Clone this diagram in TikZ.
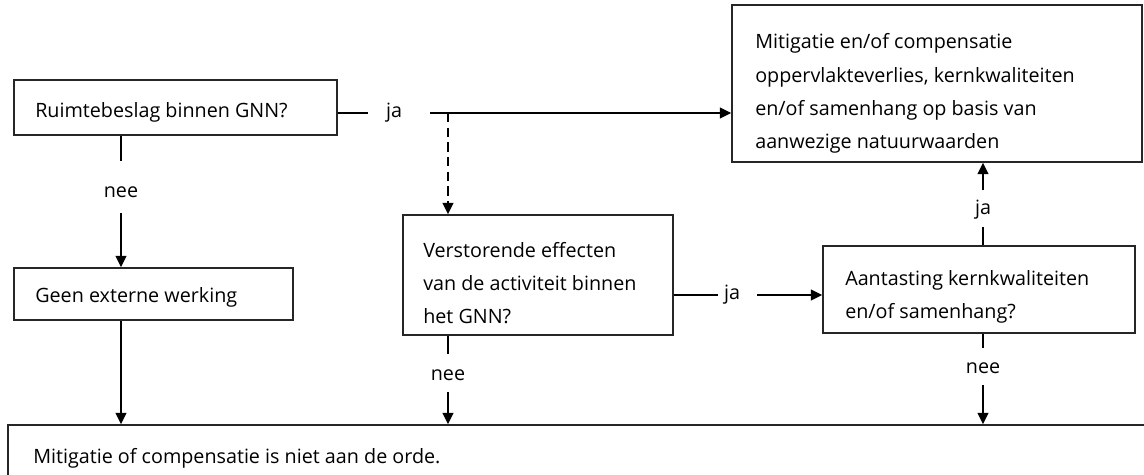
\documentclass[tikz,border=0pt]{standalone}
\usepackage{fontspec}
\setmainfont{Open Sans}
\usetikzlibrary{arrows.meta}
\begin{document}
\begin{tikzpicture}[x=0.75pt,y=-0.75pt,
  font=\fontsize{14.8pt}{25pt}\selectfont,
  box/.style={draw=black!85, line width=1.1pt, rectangle, anchor=center, inner sep=0pt},
  txt/.style={anchor=west, inner sep=0pt, align=left},
  lbl/.style={inner sep=1.5pt, font=\fontsize{14.8pt}{17pt}\selectfont},
  conn/.style={line width=1.2pt},
  arr/.style={conn, -{Triangle[length=8.5pt,width=8pt]}}
]
\useasboundingbox (0,0) rectangle (1144,474);
\clip (0,0) rectangle (1144,474);
% boxes
\node[box, minimum width=323*0.75pt, minimum height=55*0.75pt] (b1) at (175.5,107.5) {};
\node[box, minimum width=279*0.75pt, minimum height=52*0.75pt] (b2) at (153.5,294) {};
\node[box, minimum width=270*0.75pt, minimum height=120*0.75pt] (b3) at (538,275) {};
\node[box, minimum width=312*0.75pt, minimum height=87*0.75pt] (b4) at (979,289.5) {};
\node[box, minimum width=410*0.75pt, minimum height=157*0.75pt] (top) at (937,83.5) {};
\node[box, minimum width=1152*0.75pt, minimum height=75*0.75pt] (bot) at (584,462.5) {};
% texts
\node[txt] (t1) at (35,112.5) {Ruimtebeslag binnen GNN?};
\node[txt] (t2) at (35,297.5) {Geen externe werking};
\node[txt] (t3) at (423,283) {Verstorende effecten\\van de activiteit binnen\\het GNN?};
\node[txt] (t4) at (845,297) {Aantasting kernkwaliteiten\\en/of samenhang?};
\node[txt] (ttop) at (755,93.5) {Mitigatie en/of compensatie\\oppervlakteverlies, kernkwaliteiten\\en/of samenhang op basis van\\aanwezige natuurwaarden};
\node[txt] (tbot) at (33,458.5) {Mitigatie of compensatie is niet aan de orde.};
% labels
\node[lbl] (ja1) at (394,113) {ja};
\node[lbl] (nee1) at (121,192) {nee};
\node[lbl] (ja2) at (732,295) {ja};
\node[lbl] (nee2) at (448,375) {nee};
\node[lbl] (ja3) at (983,210) {ja};
\node[lbl] (nee3) at (983,368) {nee};
\coordinate (split) at (448,113);
% connectors
\draw[conn] (b1.east |- ja1) -- ++(30,0);
\draw[arr] (430,113) -- (ja1 -| top.west);
\draw[arr, dashed, dash pattern=on 7pt off 4pt] (split) -- (split |- b3.north);
\draw[conn] (b1.south -| nee1) -- ++(0,25);
\draw[arr] (121,213) -- (nee1 |- b2.north);
\draw[arr] (b2.south -| nee1) -- (nee1 |- bot.north);
\draw[conn] (b3.east |- ja2) -- ++(44,0);
\draw[arr] (757,295) -- (ja2 -| b4.west);
\draw[conn] (b3.south -| nee2) -- ++(0,18);
\draw[arr] (448,392) -- (nee2 |- bot.north);
\draw[conn] (b4.north -| ja3) -- ++(0,-18);
\draw[arr] (983,190) -- (ja3 |- top.south);
\draw[conn] (b4.south -| nee3) -- ++(0,14);
\draw[arr] (983,385) -- (nee3 |- bot.north);
\end{tikzpicture}
\end{document}
